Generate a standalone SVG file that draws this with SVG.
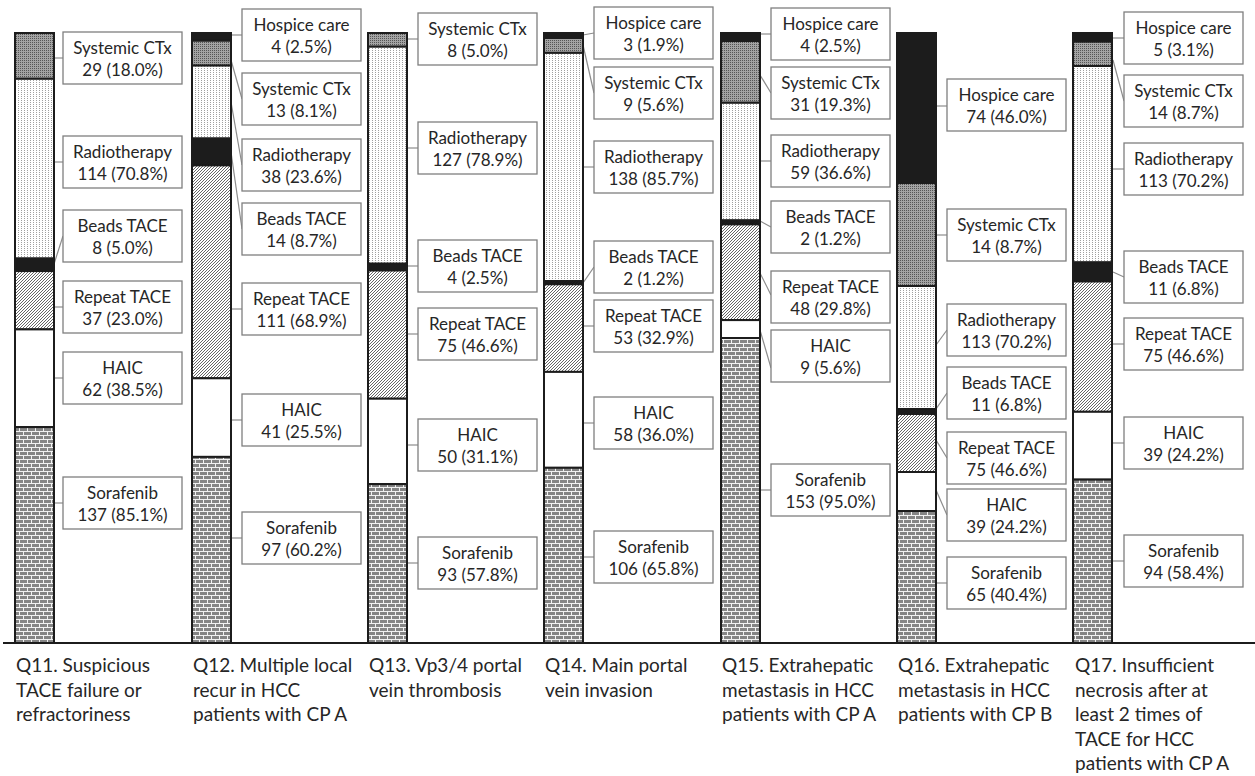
<svg xmlns="http://www.w3.org/2000/svg" width="1255" height="776" viewBox="0 0 1255 776">
<defs>
<pattern id="pBrick" width="8" height="8" patternUnits="userSpaceOnUse">
<rect width="8" height="8" fill="#f2f2f2"/>
<rect x="0" y="0" width="7" height="3" fill="#858585"/>
<rect x="0" y="4" width="3" height="3" fill="#858585"/>
<rect x="4" y="4" width="4" height="3" fill="#858585"/>
</pattern>
<pattern id="pHatch" width="3" height="3" patternUnits="userSpaceOnUse">
<rect width="3" height="3" fill="#fff"/>
<path d="M0,3 L3,0 M-1,1 L1,-1 M2,4 L4,2" stroke="#555" stroke-width="0.9"/>
</pattern>
<pattern id="pDot" width="3" height="2" patternUnits="userSpaceOnUse">
<rect width="3" height="2" fill="#fff"/>
<rect width="1" height="1" fill="#a0a0a0"/>
</pattern>
<pattern id="pGray" width="2" height="2" patternUnits="userSpaceOnUse">
<rect width="2" height="2" fill="#a3a3a3"/>
<rect width="1" height="1" fill="#555"/>
</pattern>
</defs>
<style>
.seg{stroke:#1c1c1c;stroke-width:2}
.sor{fill:url(#pBrick)}
.haic{fill:#fff}
.rep{fill:url(#pHatch)}
.bead{fill:#1c1c1c}
.rad{fill:url(#pDot)}
.sys{fill:url(#pGray)}
.hos{fill:#1c1c1c}
.lbl rect{fill:#fff;stroke:#7f7f7f;stroke-width:1.3}
.lbl text{font-family:Lato,"Liberation Sans",sans-serif;font-size:17px;fill:#262626;text-anchor:middle}
.lead line{stroke:#8c8c8c;stroke-width:1.2}
.cat{font-family:Lato,"Liberation Sans",sans-serif;font-size:19px;fill:#262626}
</style>
<rect width="1255" height="776" fill="#fff"/>

<g id="connectors" class="lead">
<line x1="54" y1="58" x2="63" y2="58"/><line x1="54" y1="162" x2="63" y2="162"/><line x1="54" y1="264" x2="63" y2="236"/><line x1="54" y1="307" x2="63" y2="307"/><line x1="54" y1="378" x2="63" y2="378"/><line x1="54" y1="503" x2="63" y2="503"/>
<line x1="231" y1="35" x2="242" y2="35"/><line x1="231" y1="60" x2="242" y2="99"/><line x1="231" y1="102" x2="242" y2="165"/><line x1="231" y1="152" x2="242" y2="229"/><line x1="231" y1="309" x2="242" y2="309"/><line x1="231" y1="420" x2="242" y2="420"/><line x1="231" y1="538" x2="242" y2="538"/>
<line x1="407" y1="39" x2="418" y2="39"/><line x1="407" y1="148" x2="418" y2="148"/><line x1="407" y1="266" x2="418" y2="266"/><line x1="407" y1="334" x2="418" y2="334"/><line x1="407" y1="445" x2="418" y2="445"/><line x1="407" y1="563" x2="418" y2="563"/>
<line x1="583" y1="35" x2="594" y2="33"/><line x1="583" y1="45" x2="594" y2="93"/><line x1="583" y1="167" x2="594" y2="167"/><line x1="583" y1="283" x2="594" y2="267"/><line x1="583" y1="326" x2="594" y2="326"/><line x1="583" y1="423" x2="594" y2="423"/><line x1="583" y1="557" x2="594" y2="557"/>
<line x1="760" y1="34" x2="771" y2="34"/><line x1="760" y1="75" x2="771" y2="93"/><line x1="760" y1="161" x2="771" y2="161"/><line x1="760" y1="221" x2="771" y2="227"/><line x1="760" y1="273" x2="771" y2="295"/><line x1="760" y1="330" x2="771" y2="368"/><line x1="760" y1="490" x2="771" y2="490"/>
<line x1="936" y1="106" x2="947" y2="106"/><line x1="936" y1="235" x2="947" y2="235"/><line x1="936" y1="345" x2="947" y2="330"/><line x1="936" y1="409" x2="947" y2="393"/><line x1="936" y1="440" x2="947" y2="458"/><line x1="936" y1="490" x2="947" y2="515"/><line x1="936" y1="583" x2="947" y2="583"/>
<line x1="1113" y1="38" x2="1124" y2="38"/><line x1="1113" y1="60" x2="1124" y2="101"/><line x1="1113" y1="169" x2="1124" y2="169"/><line x1="1113" y1="272" x2="1124" y2="277"/><line x1="1113" y1="344" x2="1124" y2="344"/><line x1="1113" y1="443" x2="1124" y2="443"/><line x1="1113" y1="561" x2="1124" y2="561"/>
</g>

<g id="bar-q11" class="seg">
<rect class="sys" x="15" y="33" width="39" height="45.8"/>
<rect class="rad" x="15" y="78.8" width="39" height="179.7"/>
<rect class="bead" x="15" y="258.5" width="39" height="12.6"/>
<rect class="rep" x="15" y="271.1" width="39" height="58.3"/>
<rect class="haic" x="15" y="329.4" width="39" height="97.7"/>
<rect class="sor" x="15" y="427.1" width="39" height="215.9"/>
</g>
<g id="bar-q12" class="seg">
<rect class="hos" x="192" y="33" width="39" height="7.7"/>
<rect class="sys" x="192" y="40.7" width="39" height="24.9"/>
<rect class="rad" x="192" y="65.6" width="39" height="72.9"/>
<rect class="bead" x="192" y="138.5" width="39" height="26.9"/>
<rect class="rep" x="192" y="165.4" width="39" height="212.9"/>
<rect class="haic" x="192" y="378.3" width="39" height="78.6"/>
<rect class="sor" x="192" y="456.9" width="39" height="186.1"/>
</g>
<g id="bar-q13" class="seg">
<rect class="sys" x="368" y="33" width="39" height="13.7"/>
<rect class="rad" x="368" y="46.7" width="39" height="217"/>
<rect class="bead" x="368" y="263.7" width="39" height="6.8"/>
<rect class="rep" x="368" y="270.5" width="39" height="128.2"/>
<rect class="haic" x="368" y="398.7" width="39" height="85.4"/>
<rect class="sor" x="368" y="484.1" width="39" height="158.9"/>
</g>
<g id="bar-q14" class="seg">
<rect class="hos" x="544" y="33" width="39" height="5"/>
<rect class="sys" x="544" y="38" width="39" height="14.9"/>
<rect class="rad" x="544" y="52.9" width="39" height="228.1"/>
<rect class="bead" x="544" y="281" width="39" height="3.3"/>
<rect class="rep" x="544" y="284.3" width="39" height="87.6"/>
<rect class="haic" x="544" y="371.9" width="39" height="95.9"/>
<rect class="sor" x="544" y="467.8" width="39" height="175.2"/>
</g>
<g id="bar-q15" class="seg">
<rect class="hos" x="721" y="33" width="39" height="8"/>
<rect class="sys" x="721" y="41" width="39" height="61.8"/>
<rect class="rad" x="721" y="102.8" width="39" height="117.6"/>
<rect class="bead" x="721" y="220.4" width="39" height="4"/>
<rect class="rep" x="721" y="224.4" width="39" height="95.7"/>
<rect class="haic" x="721" y="320.1" width="39" height="17.9"/>
<rect class="sor" x="721" y="338" width="39" height="305"/>
</g>
<g id="bar-q16" class="seg">
<rect class="hos" x="897" y="33" width="39" height="150"/>
<rect class="sys" x="897" y="183" width="39" height="103"/>
<rect class="rad" x="897" y="286" width="39" height="123"/>
<rect class="bead" x="897" y="409" width="39" height="5"/>
<rect class="rep" x="897" y="414" width="39" height="58"/>
<rect class="haic" x="897" y="472" width="39" height="39"/>
<rect class="sor" x="897" y="511" width="39" height="132"/>
</g>
<g id="bar-q17" class="seg">
<rect class="hos" x="1073" y="33" width="39" height="8.7"/>
<rect class="sys" x="1073" y="41.7" width="39" height="24.3"/>
<rect class="rad" x="1073" y="66" width="39" height="196.4"/>
<rect class="bead" x="1073" y="262.4" width="39" height="19.1"/>
<rect class="rep" x="1073" y="281.5" width="39" height="130.3"/>
<rect class="haic" x="1073" y="411.8" width="39" height="67.8"/>
<rect class="sor" x="1073" y="479.6" width="39" height="163.4"/>
</g>

<line id="axis" x1="3" y1="643" x2="1255" y2="643" stroke="#1c1c1c" stroke-width="2"/>

<g id="q11-sys" class="lbl" transform="translate(63,32)"><rect width="119" height="52"/><text x="59.5" y="22">Systemic CTx</text><text x="59.5" y="44">29 (18.0%)</text></g>
<g id="q11-rad" class="lbl" transform="translate(63,136)"><rect width="119" height="52"/><text x="59.5" y="22">Radiotherapy</text><text x="59.5" y="44">114 (70.8%)</text></g>
<g id="q11-bead" class="lbl" transform="translate(63,210)"><rect width="119" height="52"/><text x="59.5" y="22">Beads TACE</text><text x="59.5" y="44">8 (5.0%)</text></g>
<g id="q11-rep" class="lbl" transform="translate(63,281)"><rect width="119" height="52"/><text x="59.5" y="22">Repeat TACE</text><text x="59.5" y="44">37 (23.0%)</text></g>
<g id="q11-haic" class="lbl" transform="translate(63,352)"><rect width="119" height="52"/><text x="59.5" y="22">HAIC</text><text x="59.5" y="44">62 (38.5%)</text></g>
<g id="q11-sor" class="lbl" transform="translate(63,477)"><rect width="119" height="52"/><text x="59.5" y="22">Sorafenib</text><text x="59.5" y="44">137 (85.1%)</text></g>

<g id="q12-hos" class="lbl" transform="translate(242,9)"><rect width="119" height="52"/><text x="59.5" y="22">Hospice care</text><text x="59.5" y="44">4 (2.5%)</text></g>
<g id="q12-sys" class="lbl" transform="translate(242,73)"><rect width="119" height="52"/><text x="59.5" y="22">Systemic CTx</text><text x="59.5" y="44">13 (8.1%)</text></g>
<g id="q12-rad" class="lbl" transform="translate(242,139)"><rect width="119" height="52"/><text x="59.5" y="22">Radiotherapy</text><text x="59.5" y="44">38 (23.6%)</text></g>
<g id="q12-bead" class="lbl" transform="translate(242,203)"><rect width="119" height="52"/><text x="59.5" y="22">Beads TACE</text><text x="59.5" y="44">14 (8.7%)</text></g>
<g id="q12-rep" class="lbl" transform="translate(242,283)"><rect width="119" height="52"/><text x="59.5" y="22">Repeat TACE</text><text x="59.5" y="44">111 (68.9%)</text></g>
<g id="q12-haic" class="lbl" transform="translate(242,394)"><rect width="119" height="52"/><text x="59.5" y="22">HAIC</text><text x="59.5" y="44">41 (25.5%)</text></g>
<g id="q12-sor" class="lbl" transform="translate(242,512)"><rect width="119" height="52"/><text x="59.5" y="22">Sorafenib</text><text x="59.5" y="44">97 (60.2%)</text></g>

<g id="q13-sys" class="lbl" transform="translate(418,13)"><rect width="119" height="52"/><text x="59.5" y="22">Systemic CTx</text><text x="59.5" y="44">8 (5.0%)</text></g>
<g id="q13-rad" class="lbl" transform="translate(418,122)"><rect width="119" height="52"/><text x="59.5" y="22">Radiotherapy</text><text x="59.5" y="44">127 (78.9%)</text></g>
<g id="q13-bead" class="lbl" transform="translate(418,240)"><rect width="119" height="52"/><text x="59.5" y="22">Beads TACE</text><text x="59.5" y="44">4 (2.5%)</text></g>
<g id="q13-rep" class="lbl" transform="translate(418,308)"><rect width="119" height="52"/><text x="59.5" y="22">Repeat TACE</text><text x="59.5" y="44">75 (46.6%)</text></g>
<g id="q13-haic" class="lbl" transform="translate(418,419)"><rect width="119" height="52"/><text x="59.5" y="22">HAIC</text><text x="59.5" y="44">50 (31.1%)</text></g>
<g id="q13-sor" class="lbl" transform="translate(418,537)"><rect width="119" height="52"/><text x="59.5" y="22">Sorafenib</text><text x="59.5" y="44">93 (57.8%)</text></g>

<g id="q14-hos" class="lbl" transform="translate(594,7)"><rect width="119" height="52"/><text x="59.5" y="22">Hospice care</text><text x="59.5" y="44">3 (1.9%)</text></g>
<g id="q14-sys" class="lbl" transform="translate(594,67)"><rect width="119" height="52"/><text x="59.5" y="22">Systemic CTx</text><text x="59.5" y="44">9 (5.6%)</text></g>
<g id="q14-rad" class="lbl" transform="translate(594,141)"><rect width="119" height="52"/><text x="59.5" y="22">Radiotherapy</text><text x="59.5" y="44">138 (85.7%)</text></g>
<g id="q14-bead" class="lbl" transform="translate(594,241)"><rect width="119" height="52"/><text x="59.5" y="22">Beads TACE</text><text x="59.5" y="44">2 (1.2%)</text></g>
<g id="q14-rep" class="lbl" transform="translate(594,300)"><rect width="119" height="52"/><text x="59.5" y="22">Repeat TACE</text><text x="59.5" y="44">53 (32.9%)</text></g>
<g id="q14-haic" class="lbl" transform="translate(594,397)"><rect width="119" height="52"/><text x="59.5" y="22">HAIC</text><text x="59.5" y="44">58 (36.0%)</text></g>
<g id="q14-sor" class="lbl" transform="translate(594,531)"><rect width="119" height="52"/><text x="59.5" y="22">Sorafenib</text><text x="59.5" y="44">106 (65.8%)</text></g>

<g id="q15-hos" class="lbl" transform="translate(771,8)"><rect width="119" height="52"/><text x="59.5" y="22">Hospice care</text><text x="59.5" y="44">4 (2.5%)</text></g>
<g id="q15-sys" class="lbl" transform="translate(771,67)"><rect width="119" height="52"/><text x="59.5" y="22">Systemic CTx</text><text x="59.5" y="44">31 (19.3%)</text></g>
<g id="q15-rad" class="lbl" transform="translate(771,135)"><rect width="119" height="52"/><text x="59.5" y="22">Radiotherapy</text><text x="59.5" y="44">59 (36.6%)</text></g>
<g id="q15-bead" class="lbl" transform="translate(771,201)"><rect width="119" height="52"/><text x="59.5" y="22">Beads TACE</text><text x="59.5" y="44">2 (1.2%)</text></g>
<g id="q15-rep" class="lbl" transform="translate(771,271)"><rect width="119" height="52"/><text x="59.5" y="22">Repeat TACE</text><text x="59.5" y="44">48 (29.8%)</text></g>
<g id="q15-haic" class="lbl" transform="translate(771,330)"><rect width="119" height="52"/><text x="59.5" y="22">HAIC</text><text x="59.5" y="44">9 (5.6%)</text></g>
<g id="q15-sor" class="lbl" transform="translate(771,464)"><rect width="119" height="52"/><text x="59.5" y="22">Sorafenib</text><text x="59.5" y="44">153 (95.0%)</text></g>

<g id="q16-hos" class="lbl" transform="translate(947,79)"><rect width="119" height="52"/><text x="59.5" y="22">Hospice care</text><text x="59.5" y="44">74 (46.0%)</text></g>
<g id="q16-sys" class="lbl" transform="translate(947,209)"><rect width="119" height="52"/><text x="59.5" y="22">Systemic CTx</text><text x="59.5" y="44">14 (8.7%)</text></g>
<g id="q16-rad" class="lbl" transform="translate(947,304)"><rect width="119" height="52"/><text x="59.5" y="22">Radiotherapy</text><text x="59.5" y="44">113 (70.2%)</text></g>
<g id="q16-bead" class="lbl" transform="translate(947,367)"><rect width="119" height="52"/><text x="59.5" y="22">Beads TACE</text><text x="59.5" y="44">11 (6.8%)</text></g>
<g id="q16-rep" class="lbl" transform="translate(947,432)"><rect width="119" height="52"/><text x="59.5" y="22">Repeat TACE</text><text x="59.5" y="44">75 (46.6%)</text></g>
<g id="q16-haic" class="lbl" transform="translate(947,489)"><rect width="119" height="52"/><text x="59.5" y="22">HAIC</text><text x="59.5" y="44">39 (24.2%)</text></g>
<g id="q16-sor" class="lbl" transform="translate(947,557)"><rect width="119" height="52"/><text x="59.5" y="22">Sorafenib</text><text x="59.5" y="44">65 (40.4%)</text></g>

<g id="q17-hos" class="lbl" transform="translate(1124,12)"><rect width="119" height="52"/><text x="59.5" y="22">Hospice care</text><text x="59.5" y="44">5 (3.1%)</text></g>
<g id="q17-sys" class="lbl" transform="translate(1124,75)"><rect width="119" height="52"/><text x="59.5" y="22">Systemic CTx</text><text x="59.5" y="44">14 (8.7%)</text></g>
<g id="q17-rad" class="lbl" transform="translate(1124,143)"><rect width="119" height="52"/><text x="59.5" y="22">Radiotherapy</text><text x="59.5" y="44">113 (70.2%)</text></g>
<g id="q17-bead" class="lbl" transform="translate(1124,251)"><rect width="119" height="52"/><text x="59.5" y="22">Beads TACE</text><text x="59.5" y="44">11 (6.8%)</text></g>
<g id="q17-rep" class="lbl" transform="translate(1124,318)"><rect width="119" height="52"/><text x="59.5" y="22">Repeat TACE</text><text x="59.5" y="44">75 (46.6%)</text></g>
<g id="q17-haic" class="lbl" transform="translate(1124,417)"><rect width="119" height="52"/><text x="59.5" y="22">HAIC</text><text x="59.5" y="44">39 (24.2%)</text></g>
<g id="q17-sor" class="lbl" transform="translate(1124,535)"><rect width="119" height="52"/><text x="59.5" y="22">Sorafenib</text><text x="59.5" y="44">94 (58.4%)</text></g>

<g id="categories" class="cat">
<text x="16" y="672">Q11. Suspicious<tspan x="16" dy="24.6">TACE failure or</tspan><tspan x="16" dy="24.6">refractoriness</tspan></text>
<text x="193" y="672">Q12. Multiple local<tspan x="193" dy="24.6">recur in HCC</tspan><tspan x="193" dy="24.6">patients with CP A</tspan></text>
<text x="369" y="672">Q13. Vp3/4 portal<tspan x="369" dy="24.6">vein thrombosis</tspan></text>
<text x="545" y="672">Q14. Main portal<tspan x="545" dy="24.6">vein invasion</tspan></text>
<text x="722" y="672">Q15. Extrahepatic<tspan x="722" dy="24.6">metastasis in HCC</tspan><tspan x="722" dy="24.6">patients with CP A</tspan></text>
<text x="898" y="672">Q16. Extrahepatic<tspan x="898" dy="24.6">metastasis in HCC</tspan><tspan x="898" dy="24.6">patients with CP B</tspan></text>
<text x="1075" y="672">Q17. Insufficient<tspan x="1075" dy="24.6">necrosis after at</tspan><tspan x="1075" dy="24.6">least 2 times of</tspan><tspan x="1075" dy="24.6">TACE for HCC</tspan><tspan x="1075" dy="24.6">patients with CP A</tspan></text>
</g>
</svg>
